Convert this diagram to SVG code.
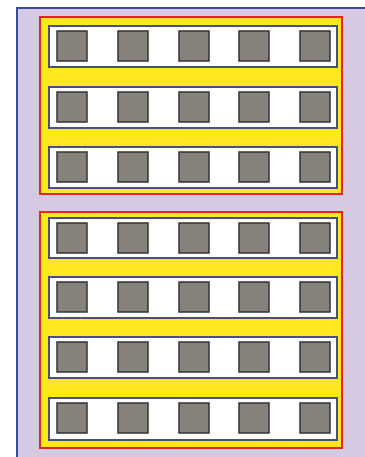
<svg xmlns="http://www.w3.org/2000/svg" width="365" height="457" viewBox="0 0 365 457">
<style>
.grp{fill:#fde81e;stroke:#e3261d;stroke-width:2}
.row{fill:#ffffff;stroke:#4a4f80;stroke-width:2}
.sq{fill:#86817a;stroke:#333333;stroke-width:1.5}
</style>
<defs>
<g id="squares">
<rect class="sq" x="57" y="5" width="30" height="30"/>
<rect class="sq" x="118" y="5" width="30" height="30"/>
<rect class="sq" x="179" y="5" width="30" height="30"/>
<rect class="sq" x="239" y="5" width="30" height="30"/>
<rect class="sq" x="300" y="5" width="30" height="30"/>
</g>
</defs>
<rect x="0" y="0" width="365" height="457" fill="#ffffff"/>
<rect id="frame" x="17" y="8" width="352" height="454" fill="#d6cae2" stroke="#3a4aa0" stroke-width="2"/>
<g id="group-top">
<rect class="grp" x="40" y="17" width="302" height="177"/>
<g id="row-1"><rect class="row" x="49" y="26" width="288" height="41"/><use href="#squares" y="26"/></g>
<g id="row-2"><rect class="row" x="49" y="87" width="288" height="41"/><use href="#squares" y="87"/></g>
<g id="row-3"><rect class="row" x="49" y="147" width="288" height="41"/><use href="#squares" y="147"/></g>
</g>
<g id="group-bottom">
<rect class="grp" x="40" y="212" width="302" height="236"/>
<g id="row-4"><rect class="row" x="49" y="218" width="288" height="40"/><use href="#squares" y="218"/></g>
<g id="row-5"><rect class="row" x="49" y="277" width="288" height="41"/><use href="#squares" y="277"/></g>
<g id="row-6"><rect class="row" x="49" y="337" width="288" height="41"/><use href="#squares" y="337"/></g>
<g id="row-7"><rect class="row" x="49" y="398" width="288" height="42"/><use href="#squares" y="398"/></g>
</g>
<g id="connectors"></g>
</svg>
